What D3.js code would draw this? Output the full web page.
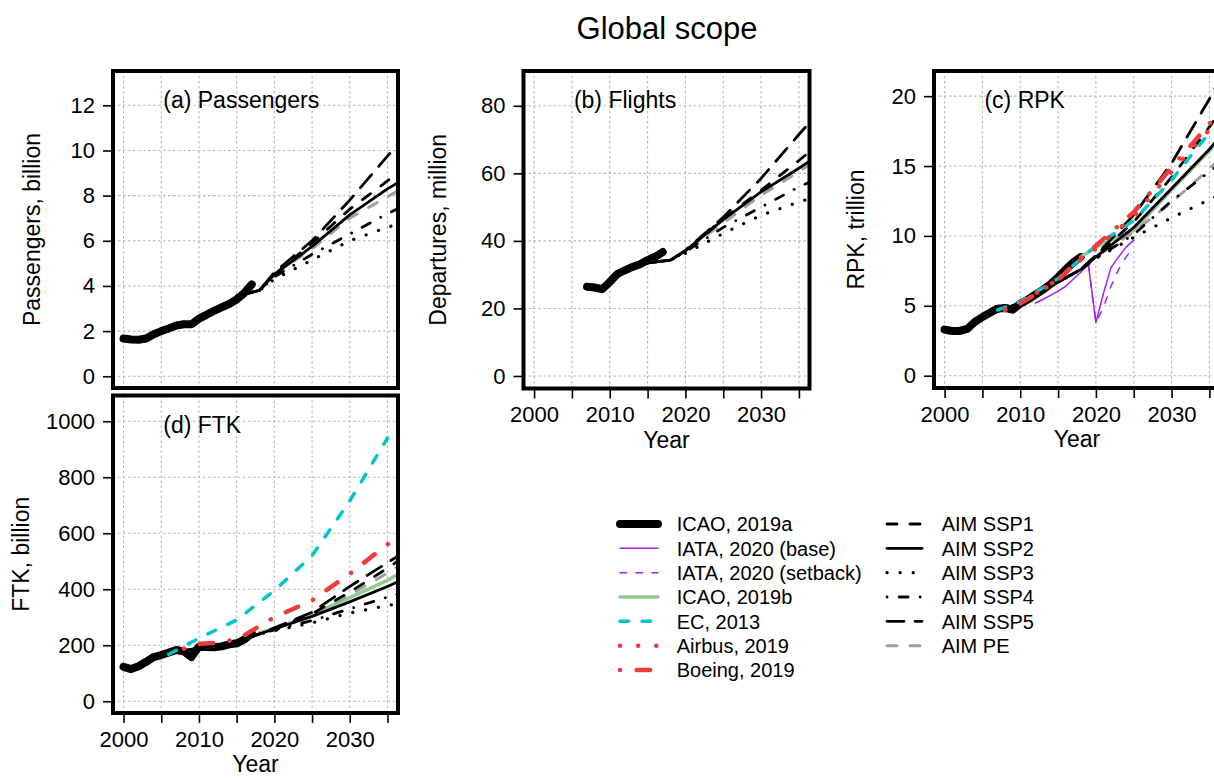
<!DOCTYPE html>
<html>
<head>
<meta charset="utf-8">
<script src="https://cdnjs.cloudflare.com/ajax/libs/d3/7.8.5/d3.min.js"></script>
<style>
  body { margin: 0; background: #fff; }
  svg { display: block; font-family: "Liberation Sans", Arial, Helvetica, sans-serif; }
</style>
</head>
<body>
<svg id="chart" width="1214" height="778"></svg>
<script>
// ---------------- data ----------------
// shared axes
const yearTicks  = [2000, 2005, 2010, 2015, 2020, 2025, 2030, 2035];
const yearLabels = [2000, 2010, 2020, 2030];
const paxTicks    = [0, 2, 4, 6, 8, 10, 12];
const flightTicks = [0, 20, 40, 60, 80];
const rpkTicks    = [0, 5, 10, 15, 20];
const ftkTicks    = [0, 200, 400, 600, 800, 1000];

// scenario years used by the AIM runs
const aimYears     = [2015, 2018, 2020, 2025, 2030, 2035, 2040];
const aimYearsLong = [2005, 2010, 2015, 2018, 2020, 2025, 2030, 2035, 2040];

// (a) Passengers, billion
const paxYears = [2000, 2001, 2002, 2003, 2004, 2005, 2006, 2007, 2008, 2009, 2010, 2011, 2012, 2013, 2014, 2015, 2016, 2017];
const paxICAO  = [1.67, 1.63, 1.62, 1.67, 1.86, 2.0, 2.12, 2.25, 2.3, 2.3, 2.55, 2.72, 2.9, 3.05, 3.2, 3.4, 3.68, 4.07];
const paxSSP1  = [3.55, 3.8, 4.5, 5.9, 7.4, 8.65, 10.0];
const paxSSP2  = [3.55, 3.8, 4.5, 5.75, 7.15, 8.3, 9.3];
const paxSSP3  = [3.55, 3.8, 4.3, 5.15, 6.0, 6.6, 7.1];
const paxSSP4  = [3.55, 3.8, 4.4, 5.4, 6.3, 7.2, 8.0];
const paxSSP5  = [3.55, 3.8, 4.6, 6.0, 7.8, 9.75, 11.6];
const paxPE    = [3.55, 3.8, 4.5, 5.65, 7.0, 7.95, 8.9];

// (b) Flights (departures, million)
const fltYears = [2007, 2008, 2009, 2010, 2011, 2012, 2013, 2014, 2015, 2016, 2017];
const fltICAO  = [26.4, 26.2, 25.7, 27.8, 30.2, 31.3, 32.3, 33.1, 34.3, 35.3, 36.7];
const fltSSP1  = [33.5, 34.3, 37.0, 46.5, 55.0, 63.8, 73.0];
const fltSSP2  = [33.5, 34.3, 37.0, 46.3, 54.5, 61.5, 69.0];
const fltSSP3  = [33.5, 34.3, 36.3, 42.2, 47.6, 51.5, 55.0];
const fltSSP4  = [33.5, 34.3, 36.8, 44.0, 50.0, 56.0, 61.0];
const fltSSP5  = [33.5, 34.3, 37.2, 47.0, 58.5, 71.5, 84.0];
const fltPE    = [33.5, 34.3, 37.0, 45.3, 53.5, 60.5, 68.0];

// (c) RPK, trillion
const rpkYears = [2000, 2001, 2002, 2003, 2004, 2005, 2006, 2007, 2008, 2009, 2010, 2011, 2012, 2013, 2014, 2015, 2016, 2017, 2018];
const rpkICAO  = [3.3, 3.2, 3.2, 3.35, 3.85, 4.2, 4.5, 4.8, 4.85, 4.72, 5.15, 5.45, 5.8, 6.15, 6.55, 7.05, 7.6, 8.1, 8.5];
const rpkIataYears   = [2012, 2013, 2014, 2015, 2016, 2017, 2018, 2019, 2020, 2021, 2022, 2023, 2024, 2025];
const rpkIataBase    = [5.2, 5.45, 5.75, 6.05, 6.4, 6.9, 7.4, 7.95, 3.8, 5.9, 7.75, 8.5, 9.2, 9.7];
const rpkSetbackYears = [2019, 2020, 2021, 2022, 2023, 2024, 2025];
const rpkIataSetback  = [7.95, 3.8, 4.9, 6.4, 7.6, 8.5, 9.2];
const rpkIcaoBYears  = [2018, 2020, 2022, 2025, 2030, 2035, 2040];
const rpkIcaoB       = [8.5, 9.2, 9.7, 10.4, 13.3, 16.1, 19.5];
const rpkEcYears     = [2007, 2010, 2015, 2020, 2025, 2030, 2035];
const rpkEC          = [4.7, 5.3, 6.95, 9.3, 11.1, 14.0, 17.4];
const rpkOemYears    = [2008, 2010, 2015, 2018, 2020, 2025, 2030, 2035, 2038];
const rpkAirbus      = [4.7, 5.2, 6.9, 8.3, 9.1, 11.4, 14.6, 17.6, 19.8];
const rpkBoeing      = [4.75, 5.15, 6.85, 8.4, 9.3, 11.7, 14.9, 18.0, 20.3];
const rpkSSP1 = [4.2, 5.2, 6.7, 7.6, 8.6, 11.0, 14.2, 17.8, 21.5];
const rpkSSP2 = [4.2, 5.2, 6.7, 7.6, 8.5, 10.6, 13.4, 16.2, 19.5];
const rpkSSP3 = [4.2, 5.2, 6.7, 7.6, 8.4, 9.9, 11.3, 12.6, 13.8];
const rpkSSP4 = [4.2, 5.2, 6.7, 7.6, 8.4, 10.1, 12.5, 14.6, 16.5];
const rpkSSP5 = [4.2, 5.2, 6.7, 7.6, 8.6, 11.5, 15.2, 19.8, 25.0];
const rpkPE   = [4.2, 5.2, 6.7, 7.6, 8.5, 10.3, 12.4, 14.8, 17.5];

// (d) FTK, billion
const ftkYears = [2000, 2001, 2002, 2003, 2004, 2005, 2006, 2007, 2008, 2009, 2010, 2011, 2012, 2013, 2014, 2015, 2016, 2017];
const ftkICAO  = [123, 115, 125, 141, 158, 165, 174, 183, 178, 158, 195, 194, 193, 196, 203, 207, 220, 243];
const ftkIcaoBYears = [2018, 2020, 2025, 2030, 2035, 2040];
const ftkIcaoB      = [245, 258, 310, 370, 432, 505];
const ftkEcYears    = [2006, 2010, 2015, 2020, 2025, 2030, 2035];
const ftkEC         = [168, 225, 290, 395, 520, 715, 940];
const ftkBoeingYears = [2008, 2010, 2012, 2014, 2016, 2018, 2020, 2025, 2030, 2035, 2038];
const ftkBoeing      = [188, 205, 208, 216, 235, 268, 300, 360, 455, 560, 625];
const ftkSSP1 = [165, 190, 210, 240, 260, 312, 390, 475, 570];
const ftkSSP2 = [165, 190, 210, 240, 258, 303, 355, 410, 470];
const ftkSSP3 = [165, 190, 210, 240, 252, 280, 315, 342, 365];
const ftkSSP4 = [165, 190, 210, 240, 255, 288, 330, 372, 410];
const ftkSSP5 = [165, 190, 210, 240, 262, 318, 410, 495, 580];
const ftkPE   = [165, 190, 210, 240, 258, 310, 380, 458, 545];

// ---------------- styles ----------------
const styles = {
  icaoA:   { label: "ICAO, 2019a",            color: "#000000", width: 8,   dash: null },
  iataB:   { label: "IATA, 2020 (base)",      color: "#a020f0", width: 1.5, dash: null },
  iataS:   { label: "IATA, 2020 (setback)",   color: "#a020f0", width: 1.5, dash: "6.5,9.5" },
  icaoB:   { label: "ICAO, 2019b",            color: "#93c993", width: 3.5, dash: null },
  ec:      { label: "EC, 2013",               color: "#00c5cd", width: 3.5, dash: "8.5,13.5" },
  airbus:  { label: "Airbus, 2019",           color: "#ee3b3b", width: 4.5, dash: "0.1,18" },
  boeing:  { label: "Boeing, 2019",           color: "#ee3b3b", width: 4.5, dash: "0.1,16.5,13.5,16.5" },
  ssp1:    { label: "AIM SSP1",               color: "#000000", width: 2.8, dash: "10,13" },
  ssp2:    { label: "AIM SSP2",               color: "#000000", width: 2.8, dash: null },
  ssp3:    { label: "AIM SSP3",               color: "#000000", width: 3.2, dash: "0.1,13" },
  ssp4:    { label: "AIM SSP4",               color: "#000000", width: 2.8, dash: "0.1,12,9,12" },
  ssp5:    { label: "AIM SSP5",               color: "#000000", width: 2.8, dash: "17,11" },
  pe:      { label: "AIM PE",                 color: "#a0a0a0", width: 3,   dash: "10,13" }
};
const legendCol1 = ["icaoA", "iataB", "iataS", "icaoB", "ec", "airbus", "boeing"];
const legendCol2 = ["ssp1", "ssp2", "ssp3", "ssp4", "ssp5", "pe"];

const s = (key, years, values) => ({ key, years, values });

const panels = [
  {
    id: "a", label: "(a) Passengers", yTitle: "Passengers, billion", titleX: 33,
    box: { x0: 113, x1: 398, y0: 71, y1: 388 }, yDomain: [-0.52, 13.52], yTicks: paxTicks, xAxis: false,
    series: [
      s("icaoA", paxYears, paxICAO),
      s("pe", aimYears, paxPE), s("ssp1", aimYears, paxSSP1), s("ssp2", aimYears, paxSSP2),
      s("ssp3", aimYears, paxSSP3), s("ssp4", aimYears, paxSSP4), s("ssp5", aimYears, paxSSP5)
    ]
  },
  {
    id: "b", label: "(b) Flights", yTitle: "Departures, million", titleX: 439,
    box: { x0: 523.5, x1: 809.5, y0: 71, y1: 388.5 }, yDomain: [-3.7, 90.3], yTicks: flightTicks, xAxis: true,
    series: [
      s("icaoA", fltYears, fltICAO),
      s("pe", aimYears, fltPE), s("ssp1", aimYears, fltSSP1), s("ssp2", aimYears, fltSSP2),
      s("ssp3", aimYears, fltSSP3), s("ssp4", aimYears, fltSSP4), s("ssp5", aimYears, fltSSP5)
    ]
  },
  {
    id: "c", label: "(c) RPK", yTitle: "RPK, trillion", titleX: 857,
    box: { x0: 934, x1: 1220, y0: 71, y1: 388 }, yDomain: [-0.88, 21.8], yTicks: rpkTicks, xAxis: true,
    series: [
      s("icaoA", rpkYears, rpkICAO),
      s("iataB", rpkIataYears, rpkIataBase), s("iataS", rpkSetbackYears, rpkIataSetback),
      s("icaoB", rpkIcaoBYears, rpkIcaoB),
      s("pe", aimYearsLong, rpkPE), s("ssp1", aimYearsLong, rpkSSP1), s("ssp2", aimYearsLong, rpkSSP2),
      s("ssp3", aimYearsLong, rpkSSP3), s("ssp4", aimYearsLong, rpkSSP4), s("ssp5", aimYearsLong, rpkSSP5),
      s("ec", rpkEcYears, rpkEC), s("airbus", rpkOemYears, rpkAirbus), s("boeing", rpkOemYears, rpkBoeing)
    ]
  },
  {
    id: "d", label: "(d) FTK", yTitle: "FTK, billion", titleX: 22,
    box: { x0: 113, x1: 398, y0: 395.5, y1: 713 }, yDomain: [-42, 1092], yTicks: ftkTicks, xAxis: true,
    series: [
      s("icaoA", ftkYears, ftkICAO),
      s("icaoB", ftkIcaoBYears, ftkIcaoB),
      s("pe", aimYearsLong, ftkPE), s("ssp1", aimYearsLong, ftkSSP1), s("ssp2", aimYearsLong, ftkSSP2),
      s("ssp3", aimYearsLong, ftkSSP3), s("ssp4", aimYearsLong, ftkSSP4), s("ssp5", aimYearsLong, ftkSSP5),
      s("ec", ftkEcYears, ftkEC), s("boeing", ftkBoeingYears, ftkBoeing)
    ]
  }
];

// ---------------- drawing ----------------
const svg = d3.select("#chart");
const defs = svg.append("defs");
const xDomain = [2000 - 1.4, 2035 + 1.4];
const tickFont = 22, titleFont = 23;

svg.append("text")
  .attr("x", 667).attr("y", 39)
  .attr("text-anchor", "middle")
  .attr("font-size", 31)
  .attr("fill", "#000")
  .text("Global scope");

function applyStyle(sel, st) {
  sel.attr("fill", "none")
    .attr("stroke", st.color)
    .attr("stroke-width", st.width)
    .attr("stroke-linecap", "round")
    .attr("stroke-linejoin", "round")
    .attr("stroke-dasharray", st.dash);
}

panels.forEach(p => {
  const b = p.box;
  const x = d3.scaleLinear().domain(xDomain).range([b.x0, b.x1]);
  const y = d3.scaleLinear().domain(p.yDomain).range([b.y1, b.y0]);
  const g = svg.append("g").attr("class", "panel-" + p.id);

  defs.append("clipPath").attr("id", "clip-" + p.id)
    .append("rect").attr("x", b.x0).attr("y", b.y0)
    .attr("width", b.x1 - b.x0).attr("height", b.y1 - b.y0);

  // dotted grid
  const grid = g.append("g")
    .attr("stroke", "#b8b8b8").attr("stroke-width", 1.1).attr("stroke-dasharray", "2.5,2.5");
  grid.selectAll("line.v").data(yearTicks).join("line").attr("class", "v")
    .attr("x1", d => x(d)).attr("x2", d => x(d)).attr("y1", b.y0).attr("y2", b.y1);
  grid.selectAll("line.h").data(p.yTicks).join("line").attr("class", "h")
    .attr("x1", b.x0).attr("x2", b.x1).attr("y1", d => y(d)).attr("y2", d => y(d));

  // series
  const line = d3.line().x(d => x(d[0])).y(d => y(d[1]));
  const lines = g.append("g").attr("clip-path", `url(#clip-${p.id})`);
  p.series.forEach(ser => {
    lines.append("path")
      .datum(d3.zip(ser.years, ser.values))
      .attr("d", line)
      .call(applyStyle, styles[ser.key]);
  });

  // frame
  g.append("rect")
    .attr("x", b.x0).attr("y", b.y0)
    .attr("width", b.x1 - b.x0).attr("height", b.y1 - b.y0)
    .attr("fill", "none").attr("stroke", "#000").attr("stroke-width", 4);

  // y axis
  const ya = g.append("g").attr("transform", `translate(${b.x0},0)`)
    .call(d3.axisLeft(y).tickValues(p.yTicks).tickSize(10).tickPadding(8).tickFormat(d3.format("d")));
  ya.attr("font-size", null).attr("font-family", null);
  ya.select(".domain").remove();
  ya.selectAll(".tick line").attr("stroke", "#000").attr("stroke-width", 1.6);
  ya.selectAll(".tick text").attr("font-size", tickFont).attr("fill", "#000");

  // x axis
  if (p.xAxis) {
    const xa = g.append("g").attr("transform", `translate(0,${b.y1})`)
      .call(d3.axisBottom(x).tickValues(yearTicks).tickSize(10).tickPadding(8)
        .tickFormat(d => yearLabels.includes(d) ? String(d) : ""));
    xa.attr("font-size", null).attr("font-family", null);
    xa.select(".domain").remove();
    xa.selectAll(".tick line").attr("stroke", "#000").attr("stroke-width", 1.6);
    xa.selectAll(".tick text").attr("font-size", tickFont).attr("fill", "#000");
    g.append("text")
      .attr("x", (b.x0 + b.x1) / 2).attr("y", b.y1 + 59)
      .attr("text-anchor", "middle").attr("font-size", titleFont).attr("fill", "#000")
      .text("Year");
  }

  // y title
  g.append("text")
    .attr("transform", `translate(${p.titleX},${(b.y0 + b.y1) / 2}) rotate(-90)`)
    .attr("text-anchor", "middle").attr("dy", "0.32em")
    .attr("font-size", titleFont).attr("fill", "#000")
    .text(p.yTitle);

  // panel label
  g.append("text")
    .attr("x", x(2005) + 2).attr("y", b.y0 + 37)
    .attr("font-size", titleFont).attr("fill", "#000")
    .text(p.label);
});

// legend
const legend = svg.append("g").attr("class", "legend");
const rowY = i => 524 + i * 24.33;
function legendColumn(keys, lx0, lx1, tx) {
  keys.forEach((k, i) => {
    const st = styles[k];
    legend.append("line")
      .attr("x1", lx0).attr("x2", lx1).attr("y1", rowY(i)).attr("y2", rowY(i))
      .call(applyStyle, st);
    legend.append("text")
      .attr("x", tx).attr("y", rowY(i)).attr("dy", "0.36em")
      .attr("font-size", 20).attr("fill", "#000")
      .text(st.label);
  });
}
legendColumn(legendCol1, 620, 658, 676.7);
legendColumn(legendCol2, 887, 922, 941.7);
</script>
</body>
</html>
